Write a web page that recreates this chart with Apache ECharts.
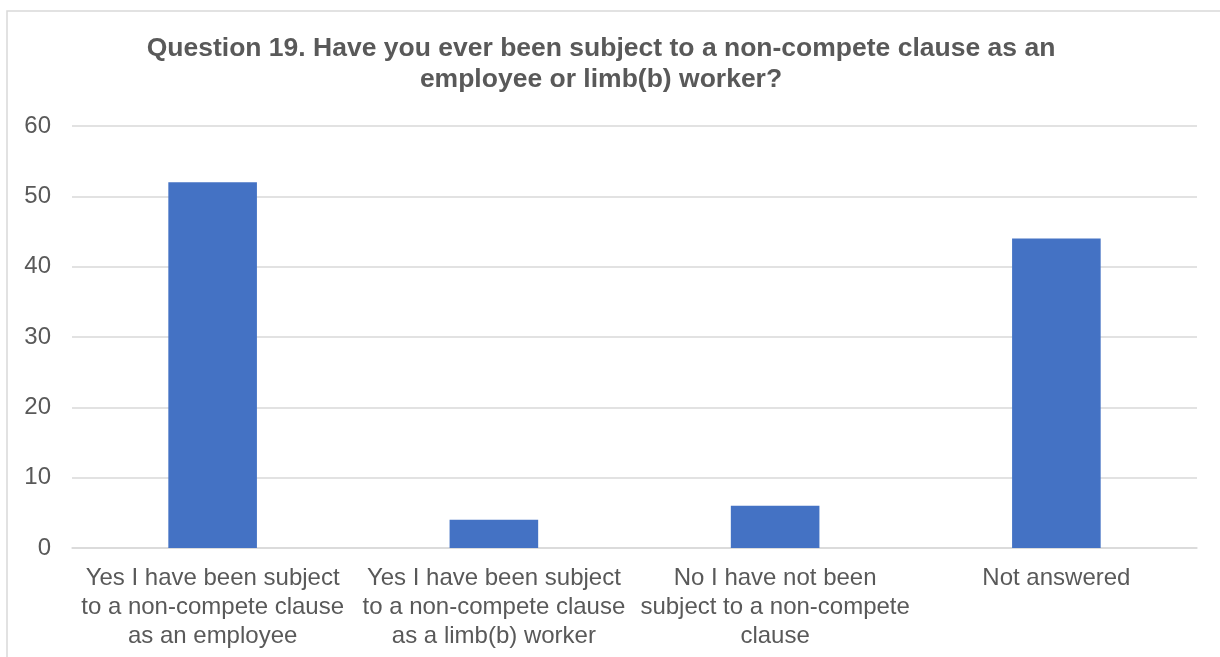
<!DOCTYPE html>
<html><head><meta charset="utf-8">
<script src="https://cdn.jsdelivr.net/npm/echarts@6/dist/echarts.min.js"></script>
<style>html,body{margin:0;padding:0;background:#fff}#c{width:1220px;height:657px}</style>
</head><body><div id="c"></div>
<script>
const categories = [
  "Yes I have been subject\nto a non-compete clause\nas an employee",
  "Yes I have been subject\nto a non-compete clause\nas a limb(b) worker",
  "No I have not been\nsubject to a non-compete\nclause",
  "Not answered"
];
const values = [52, 4, 6, 44];
const titleText = "Question 19. Have you ever been subject to a non-compete clause as an\nemployee or limb(b) worker?";

const chart = echarts.init(document.getElementById('c'), null, {renderer: 'canvas'});
chart.setOption({
  animation: false,
  backgroundColor: '#fff',
  graphic: [{
    type: 'rect', x: 7, y: 11,
    shape: {x: 0, y: 0, width: 1240, height: 680},
    style: {fill: 'none', stroke: '#d9d9d9', lineWidth: 1.5},
    silent: true, z: -1
  }],
  title: {
    text: titleText,
    left: 596, top: 28, textAlign: 'center',
    textStyle: {fontFamily: 'Liberation Sans', fontWeight: 'bold', fontSize: 26.5, color: '#595959', lineHeight: 31}
  },
  grid: {left: 72, right: 23, top: 126, bottom: 109, containLabel: false},
  xAxis: {
    type: 'category', data: categories,
    axisLine: {show: true, lineStyle: {color: '#d9d9d9', width: 1.5}},
    axisTick: {show: false},
    axisLabel: {fontFamily: 'Liberation Sans', fontSize: 24, color: '#595959', lineHeight: 29, margin: 16, interval: 0}
  },
  yAxis: {
    type: 'value', min: 0, max: 60, interval: 10,
    axisLine: {show: false}, axisTick: {show: false},
    splitLine: {lineStyle: {color: '#d9d9d9', width: 1.5}},
    axisLabel: {fontFamily: 'Liberation Sans', fontSize: 24, color: '#595959', margin: 21}
  },
  series: [{
    type: 'bar', data: values, barWidth: '31.5%',
    itemStyle: {color: '#4472c4'}
  }]
});
</script></body></html>
